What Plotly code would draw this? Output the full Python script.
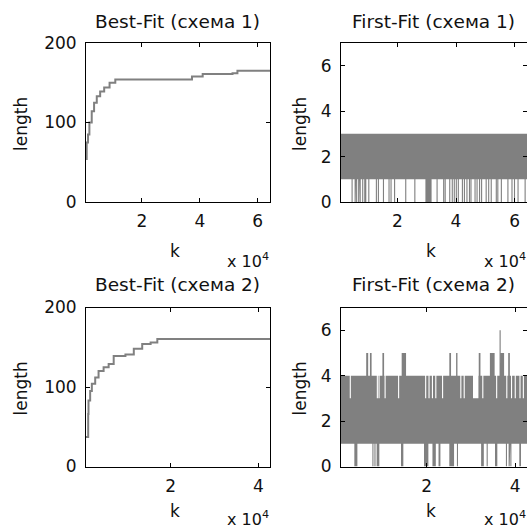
import plotly.graph_objects as go

W, H = 527, 530

# ---------------- data ----------------
titles = ["Best-Fit (схема 1)", "First-Fit (схема 1)", "Best-Fit (схема 2)", "First-Fit (схема 2)"]
x_label = "k"
y_label = "length"

# Best-Fit, scheme 1 (step curve)
bf1_k = [700, 935, 1400, 1870, 2680, 3490, 4420, 5590, 6980, 8840, 10820, 37300, 41000, 51300, 53000, 64250]
bf1_len = [54, 75, 85, 100, 114, 125, 133, 139, 144, 150, 154, 158, 161, 162, 165, 165]

# Best-Fit, scheme 2 (step curve)
bf2_k = [650, 1150, 1220, 1600, 1985, 2750, 3520, 4670, 5820, 6970, 9650, 11560, 13480, 15400, 16930, 42650]
bf2_len = [37, 66, 83, 95, 104, 112, 120, 125, 129, 139, 141, 148, 154, 156, 160.5, 160.5]

# First-Fit, scheme 1: length oscillates between 1 and 3, dropping to 0 at these k
ff1_k_span = [700, 64250]
ff1_low, ff1_high = 1, 3
ff1_zero_k = [4490, 5530, 6050, 6740, 7260, 8120, 8820, 9160, 10200, 12790, 13480, 15210,
              17110, 17800, 19010, 22820, 25930, 29730, 30080, 30420, 30770, 31110, 31460,
              33530, 35780, 36300, 37850, 38720, 39410, 40100, 40790, 42180, 42870, 43730,
              44600, 45110, 46500, 47190, 48050, 48740, 50300, 51160, 52030, 53760, 54280,
              55490, 57730, 59120, 59980, 61190, 63610]

# First-Fit, scheme 2: length oscillates between 1 and 4
ff2_k_span = [650, 42650]
ff2_low, ff2_high = 1, 4
ff2_zero_k = [7860, 8320, 26950, 33660, 38010, 38620, 39010]
ff2_zero_spans = [[3660, 4350], [8700, 9310], [14200, 14730], [19390, 20380], [21300, 22060],
                  [22670, 23100], [25110, 26180], [32290, 32900], [35420, 35950], [40910, 41300]]
ff2_dip_k = [2750, 8860, 9240, 10610, 13660, 19770, 20530, 21300, 22060, 23590, 27710, 28470,
             32670, 35800, 38090, 39160, 40000, 41070, 41830]
ff2_dip_len = 3
ff2_dip_spans = [[30460, 31680]]
ff2_spike_spans = [[6340, 6790], [7180, 7560], [10000, 10380], [14350, 15340], [25110, 25500],
                   [26640, 26950], [31750, 32140], [34270, 35340], [36720, 37480], [38400, 38780],
                   [36450, 36710]]
ff2_spike_len = [5, 5, 5, 5, 5, 5, 5, 5, 5, 5, 6]

x_ranges = [[700, 64250], [700, 64250], [650, 42650], [650, 42650]]
y_ranges = [[0, 200], [0, 7], [0, 200], [0, 7]]
x_tickvals = [[20000, 40000, 60000], [20000, 40000, 60000], [20000, 40000], [20000, 40000]]
x_ticktext = [["2", "4", "6"], ["2", "4", "6"], ["2", "4"], ["2", "4"]]
y_tickvals = [[0, 100, 200], [0, 2, 4, 6], [0, 100, 200], [0, 2, 4, 6]]

# ---------------- layout geometry (pixels) ----------------
boxes = [  # left, right, top, bottom
    (86, 270, 43, 202),
    (341, 527, 43, 202),
    (86, 270, 307.5, 466.5),
    (341, 527, 307.5, 466.5),
]
ylabel_dx = [65.5, 41.5, 65.5, 41.5]
title_dy = [21, 21, 23, 23]
k_dy = [49, 49, 44, 44]
exp_dy = [58, 58, 52, 52]
GRAY = "#808080"
TXT = "#111111"
FONT = "DejaVu Sans"


def px_x(v):
    return v / W


def px_y(v):
    return 1 - v / H


def band_polygon(k_span, low, high, zero_centers, zero_spans, hw, top_events):
    """Closed outline of the dense oscillation band: upper envelope (left->right)
    then lower envelope (right->left)."""
    k0, k1 = k_span
    xs, ys = [k0], [high]
    for (s, e, v) in sorted(top_events):
        xs += [s, s, e, e]
        ys += [high, v, v, high]
    xs.append(k1)
    ys.append(high)
    notches = [(c - hw, c + hw) for c in zero_centers] + [tuple(sp) for sp in zero_spans]
    notches.sort(reverse=True)
    xs.append(k1)
    ys.append(low)
    for (s, e) in notches:
        xs += [e, e, s, s]
        ys += [low, 0, 0, low]
    xs.append(k0)
    ys.append(low)
    return xs, ys


fig = go.Figure()

# Best-Fit curves
fig.add_trace(go.Scatter(x=bf1_k, y=bf1_len, mode="lines", line=dict(color=GRAY, width=2, shape="hv"),
                         xaxis="x", yaxis="y", showlegend=False))
fig.add_trace(go.Scatter(x=bf2_k, y=bf2_len, mode="lines", line=dict(color=GRAY, width=2, shape="hv"),
                         xaxis="x3", yaxis="y3", showlegend=False))

# First-Fit bands
hw1 = 190
xs1, ys1 = band_polygon(ff1_k_span, ff1_low, ff1_high, ff1_zero_k, [], hw1, [])
fig.add_trace(go.Scatter(x=xs1, y=ys1, mode="lines", fill="toself", fillcolor=GRAY,
                         line=dict(width=0, color=GRAY), xaxis="x2", yaxis="y2", showlegend=False))

hw2 = 125
events2 = [(c - hw2, c + hw2, ff2_dip_len) for c in ff2_dip_k]
events2 += [(s, e, ff2_dip_len) for s, e in ff2_dip_spans]
events2 += [(s, e, v) for (s, e), v in zip(ff2_spike_spans, ff2_spike_len)]
xs2, ys2 = band_polygon(ff2_k_span, ff2_low, ff2_high, ff2_zero_k, ff2_zero_spans, hw2, events2)
fig.add_trace(go.Scatter(x=xs2, y=ys2, mode="lines", fill="toself", fillcolor=GRAY,
                         line=dict(width=0, color=GRAY), xaxis="x4", yaxis="y4", showlegend=False))

layout = dict(width=W, height=H, autosize=False, margin=dict(l=0, r=0, t=0, b=0, pad=0),
              paper_bgcolor="white", plot_bgcolor="white", showlegend=False,
              font=dict(family=FONT, size=17, color=TXT))

annotations = []
for i, (l, r, t, b) in enumerate(boxes):
    n = "" if i == 0 else str(i + 1)
    xa = dict(domain=[px_x(l), px_x(r)], range=x_ranges[i], anchor="y" + n, automargin=False,
              showline=True, linecolor="black", linewidth=1, mirror="ticks",
              ticks="inside", ticklen=4, tickcolor="black", tickwidth=1,
              tickvals=x_tickvals[i], ticktext=x_ticktext[i], showgrid=False, zeroline=False,
              ticklabelstandoff=4, tickfont=dict(family=FONT, size=17, color=TXT))
    ya = dict(domain=[px_y(b), px_y(t)], range=y_ranges[i], anchor="x" + n, automargin=False,
              showline=True, linecolor="black", linewidth=1, mirror="ticks",
              ticks="inside", ticklen=4, tickcolor="black", tickwidth=1,
              tickvals=y_tickvals[i], showgrid=False, zeroline=False,
              ticklabelstandoff=5, tickfont=dict(family=FONT, size=17, color=TXT))
    layout["xaxis" + n] = xa
    layout["yaxis" + n] = ya

    cx = (l + r) / 2
    annotations.append(dict(text=titles[i], x=px_x(cx - 1), y=px_y(t - title_dy[i]), xref="paper",
                            yref="paper", xanchor="center", yanchor="middle", showarrow=False,
                            font=dict(family=FONT, size=18.5, color=TXT)))
    annotations.append(dict(text=y_label, x=px_x(l - ylabel_dx[i]), y=px_y((t + b) / 2 + 2), xref="paper",
                            yref="paper", xanchor="center", yanchor="middle", textangle=-90,
                            showarrow=False, font=dict(family=FONT, size=17, color=TXT)))
    annotations.append(dict(text=x_label, x=px_x(cx - 3), y=px_y(b + k_dy[i]), xref="paper", yref="paper",
                            xanchor="center", yanchor="middle", showarrow=False,
                            font=dict(family=FONT, size=17, color=TXT)))
    annotations.append(dict(text="x 10<sup>4</sup>", x=px_x(r + 1), y=px_y(b + exp_dy[i]), xref="paper",
                            yref="paper", xanchor="right", yanchor="middle", showarrow=False,
                            font=dict(family=FONT, size=16, color=TXT)))

layout["annotations"] = annotations
fig.update_layout(**layout)
fig.write_html("out.html", config={"responsive": False, "displayModeBar": False},
               post_script="document.body.style.margin='0';document.body.style.overflow='hidden';")
